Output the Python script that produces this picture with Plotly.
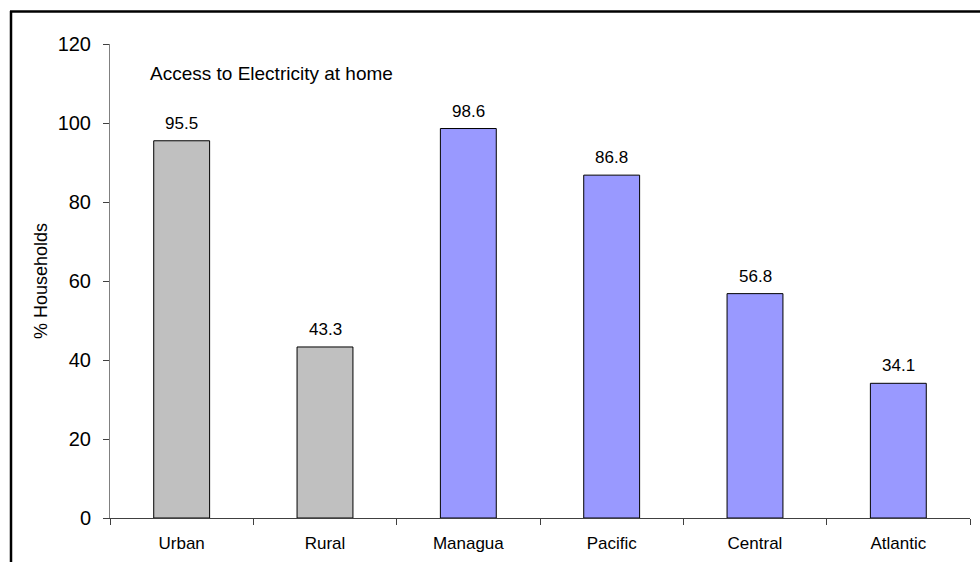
import plotly.graph_objects as go

# Share of households with electricity at home, by area and region
categories = ["Urban", "Rural", "Managua", "Pacific", "Central", "Atlantic"]
values = [95.5, 43.3, 98.6, 86.8, 56.8, 34.1]
bar_colors = ["#C0C0C0", "#C0C0C0", "#9999FF", "#9999FF", "#9999FF", "#9999FF"]
y_ticks = [0, 20, 40, 60, 80, 100, 120]

W, H = 980, 562
L, R, T, B = 110, 10, 44, 44
FONT = "Arial, Liberation Sans"

fig = go.Figure()
fig.add_trace(go.Bar(
    x=categories,
    y=values,
    marker=dict(color=bar_colors, line=dict(color="#000000", width=1)),
    width=0.39,
    hoverinfo="x+y",
))

# Value labels above each bar
for cat, v in zip(categories, values):
    fig.add_annotation(
        x=cat, y=v, xref="x", yref="y",
        text=f"{v:.1f}", showarrow=False,
        xanchor="center", yanchor="bottom", yshift=6,
        font=dict(family=FONT, size=17, color="#000000"),
    )

fig.update_layout(
    width=W, height=H,
    margin=dict(l=L, r=R, t=T, b=B),
    paper_bgcolor="white",
    plot_bgcolor="white",
    showlegend=False,
    font=dict(family=FONT, color="#000000"),
    xaxis=dict(
        type="category",
        showgrid=False,
        showline=True, linecolor="#404040", linewidth=1,
        ticks="outside", tickson="boundaries", ticklen=6, tickcolor="#404040",
        tickfont=dict(size=17),
        ticklabelstandoff=10,
        zeroline=False,
    ),
    yaxis=dict(
        range=[0, 120],
        tickvals=y_ticks,
        showgrid=False,
        showline=True, linecolor="#808080", linewidth=1,
        ticks="outside", ticklen=6, tickcolor="#404040",
        tickfont=dict(size=20),
        ticklabelstandoff=8,
        zeroline=False,
        title=dict(text="% Households", font=dict(size=18), standoff=5),
    ),
)

# Chart caption inside the plot area
fig.add_annotation(
    text="Access to Electricity at home",
    xref="paper", yref="y", x=(148 - L) / (W - L - R), y=112.5,
    xanchor="left", yanchor="middle", showarrow=False,
    font=dict(family=FONT, size=19, color="#000000"),
)

# Frame around the figure (left and top edges)
px = lambda x: (x - L) / (W - L - R)
py = lambda y: (H - B - y) / (H - T - B)
fig.add_shape(type="line", xref="paper", yref="paper",
              x0=px(11), x1=px(11), y0=py(11), y1=py(600),
              line=dict(color="#000000", width=2.5))
fig.add_shape(type="line", xref="paper", yref="paper",
              x0=px(10), x1=px(1000), y0=py(11.5), y1=py(11.5),
              line=dict(color="#000000", width=2.5))

fig.write_html("out.html")
